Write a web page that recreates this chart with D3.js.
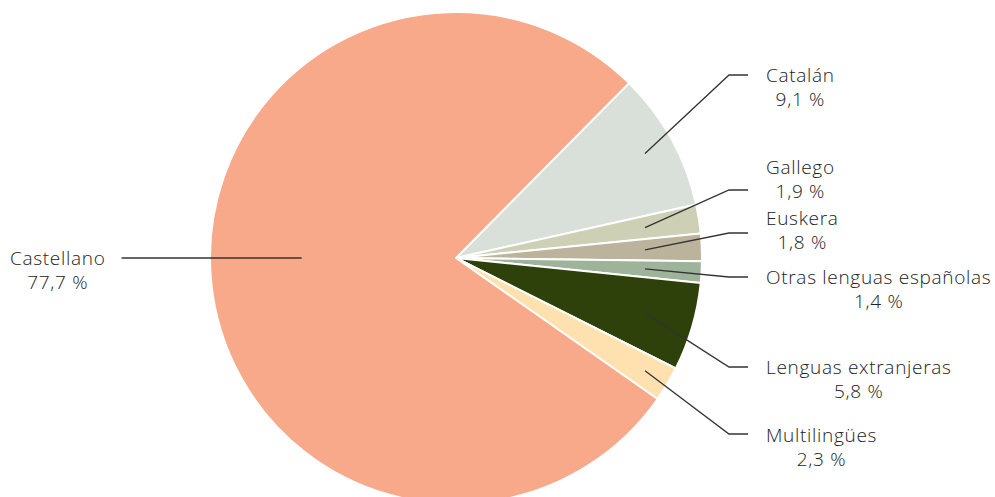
<!DOCTYPE html>
<html>
<head>
  <meta charset='utf-8'>
  <script src='https://d3js.org/d3.v7.min.js'></script>
  <style type='text/css'>
    body { margin: 0; background: #fff; }
    .lbl text {
      font-family: 'Open Sans', sans-serif;
      font-weight: 300;
      font-size: 19px;
      letter-spacing: 0.7px;
      fill: #222;
    }
    .lead {
      fill: none;
      stroke: #333;
      stroke-width: 1.3;
    }
  </style>
</head>
<body>
  <script type='text/javascript'>
    // data, in drawing order (clockwise from the Catalán edge)
    var languages = ['Catalán', 'Gallego', 'Euskera', 'Otras lenguas españolas', 'Lenguas extranjeras', 'Multilingües', 'Castellano'],
      shares = [9.1, 1.9, 1.8, 1.4, 5.8, 2.3, 77.7],
      shareLabels = ['9,1 %', '1,9 %', '1,8 %', '1,4 %', '5,8 %', '2,3 %', '77,7 %'],
      colors = ['#d9e0d9', '#cdd0b4', '#bcb39c', '#9db39a', '#2f410a', '#fee1ae', '#f7a98a'];
  </script>
  <script type='text/javascript'>
    var w = 995,
      h = 497,
      cx = 456,
      cy = 258,
      r = 246,
      startA = 0.78; // Catalán begins a bit past the top right

    // label layout for the right hand column (offsets from the centre)
    var textRows = [-183, -91, -40, 19, 109, 177],
      elbowRows = [-183, -68, -25, 19, 109, 176],
      innerX = 189,   // leader starts at this x offset inside each slice
      elbowX = 273,
      endX = 292,
      textX = 310,
      lineGap = 24;

    var svg = d3.select('body').append('svg')
      .attr('width', w)
      .attr('height', h);

    var pie = d3.pie().sort(null).value(function(d) { return d; })
      .startAngle(startA).endAngle(startA + 2 * Math.PI);
    var arcs = pie(shares);
    var arc = d3.arc().innerRadius(0).outerRadius(r);

    var g = svg.append('g').attr('transform', 'translate(' + cx + ',' + cy + ')');

    g.selectAll('path.slice').data(arcs).enter().append('path')
      .attr('class', 'slice')
      .attr('d', arc)
      .attr('fill', function(d, i) { return colors[i]; })
      .attr('stroke', '#fff')
      .attr('stroke-width', 2)
      .attr('stroke-linejoin', 'round');

    var mid = function(d) { return (d.startAngle + d.endAngle) / 2; };

    arcs.forEach(function(d, i) {
      var a = mid(d);
      var lg = g.append('g').attr('class', 'lbl');
      if (i < textRows.length) {
        // point inside the slice along its mid angle, at a fixed x
        var ix = innerX,
          iy = -ix * Math.cos(a) / Math.sin(a),
          ey = elbowRows[i],
          ty = textRows[i];
        g.append('path').attr('class', 'lead')
          .attr('d', d3.line()([[ix, iy], [elbowX, ey], [endX, ey]]));
        var t1 = lg.append('text').text(languages[i])
          .attr('y', ty).attr('dy', '0.35em');
        var t2 = lg.append('text').text(shareLabels[i])
          .attr('y', ty + lineGap).attr('dy', '0.35em');
        var wMax = Math.max(t1.node().getComputedTextLength(), t2.node().getComputedTextLength());
        lg.selectAll('text').attr('text-anchor', 'middle').attr('x', textX + wMax / 2);
      } else {
        // Castellano: straight line out to the left
        var py = 0;
        var n1 = lg.append('text').text(languages[i])
          .attr('y', py).attr('dy', '0.35em');
        var n2 = lg.append('text').text(shareLabels[i])
          .attr('y', py + lineGap).attr('dy', '0.35em');
        var wm = Math.max(n1.node().getComputedTextLength(), n2.node().getComputedTextLength());
        var right = -cx + 10 + wm;
        lg.selectAll('text').attr('text-anchor', 'middle').attr('x', -cx + 10 + wm / 2);
        g.append('path').attr('class', 'lead')
          .attr('d', d3.line()([[right + 16, py], [r * 0.63 * Math.sin(a), py]]));
      }
    });
  </script>
</body>
</html>
